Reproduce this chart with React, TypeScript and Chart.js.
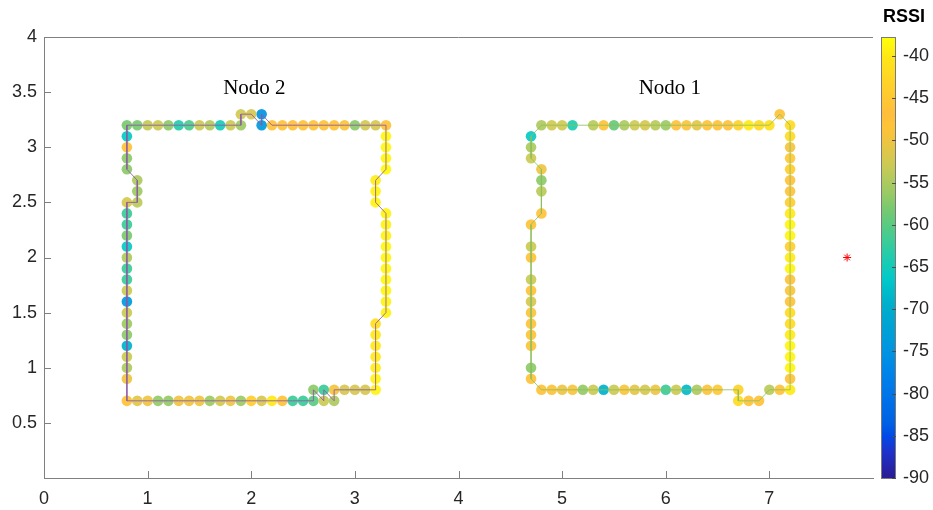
import { useEffect, useRef } from 'react';
import { Chart, registerables } from 'chart.js';

Chart.register(...registerables);

// Colour range of the RSSI colour bar (dBm)
const C_MIN = -90;
const C_MAX = -37.75;

// Axis ticks
const xTickValues = [0, 1, 2, 3, 4, 5, 6, 7];
const yTickValues = [0.5, 1, 1.5, 2, 2.5, 3, 3.5, 4];
const cbTickValues = [-90, -85, -80, -75, -70, -65, -60, -55, -50, -45, -40];

// Route around node 2 (closed loop), positions in metres and RSSI in dBm
const nodo2X = [
  0.8, 0.9, 1.0, 1.1, 1.2, 1.3, 1.4, 1.5, 1.6, 1.7, 1.8, 1.9, 2.0, 2.1, 2.2, 2.3, 2.4, 2.5, 2.6, 2.6, 2.7, 2.7, 2.8, 2.8, 2.9, 3.0, 3.1, 3.2,
  3.2, 3.2, 3.2, 3.2, 3.2, 3.2, 3.3, 3.3, 3.3, 3.3, 3.3, 3.3, 3.3, 3.3, 3.3, 3.3, 3.2, 3.2, 3.2, 3.3, 3.3, 3.3, 3.3, 3.3,
  3.2, 3.1, 3.0, 2.9, 2.8, 2.7, 2.6, 2.5, 2.4, 2.3, 2.2, 2.1, 2.1, 2.0, 1.9, 1.9, 1.8, 1.7, 1.6, 1.5, 1.4, 1.3, 1.2, 1.1, 1.0, 0.9, 0.8,
  0.8, 0.8, 0.8, 0.8, 0.9, 0.9, 0.9, 0.8, 0.8, 0.8, 0.8, 0.8, 0.8, 0.8, 0.8, 0.8, 0.8, 0.8, 0.8, 0.8, 0.8, 0.8, 0.8, 0.8,
];
const nodo2Y = [
  0.7, 0.7, 0.7, 0.7, 0.7, 0.7, 0.7, 0.7, 0.7, 0.7, 0.7, 0.7, 0.7, 0.7, 0.7, 0.7, 0.7, 0.7, 0.7, 0.8, 0.7, 0.8, 0.7, 0.8, 0.8, 0.8, 0.8, 0.8,
  0.9, 1.0, 1.1, 1.2, 1.3, 1.4, 1.5, 1.6, 1.7, 1.8, 1.9, 2.0, 2.1, 2.2, 2.3, 2.4, 2.5, 2.6, 2.7, 2.8, 2.9, 3.0, 3.1, 3.2,
  3.2, 3.2, 3.2, 3.2, 3.2, 3.2, 3.2, 3.2, 3.2, 3.2, 3.2, 3.3, 3.2, 3.3, 3.3, 3.2, 3.2, 3.2, 3.2, 3.2, 3.2, 3.2, 3.2, 3.2, 3.2, 3.2, 3.2,
  3.1, 3.0, 2.9, 2.8, 2.7, 2.6, 2.5, 2.5, 2.4, 2.3, 2.2, 2.1, 2.0, 1.9, 1.8, 1.7, 1.6, 1.5, 1.4, 1.3, 1.2, 1.1, 1.0, 0.9,
];
const nodo2Rssi = [
  -46, -51, -50, -56.5, -56.5, -50, -50, -50, -56, -52.5, -50, -56, -44, -52, -40, -46, -62, -62, -60, -57, -53, -62, -55, -49.5, -52, -52, -52, -39,
  -39, -39.5, -40, -40, -40, -41, -39, -39, -38.5, -38.5, -38.5, -38.5, -38.5, -39, -39, -39, -39, -39, -39.5, -38.5, -38.5, -38.5, -38.5, -46,
  -52, -52.5, -57, -49, -46, -46, -46, -46, -47.5, -46, -46, -75, -74, -52, -52.5, -56, -53, -65, -54.5, -53, -61, -63.5, -57, -53, -53.5, -58, -58,
  -66, -46, -57, -57, -55, -56, -54, -52, -62, -62, -58, -66, -55, -62, -62, -53, -74, -53, -56, -57, -69, -53, -55, -50,
];

// Route around node 1 (closed loop)
const nodo1X = [
  4.8, 4.9, 5.0, 5.1, 5.2, 5.3, 5.4, 5.5, 5.6, 5.7, 5.8, 5.9, 6.0, 6.1, 6.2, 6.3, 6.4, 6.5, 6.7, 6.7, 6.8, 6.9, 7.0, 7.1, 7.2,
  7.2, 7.2, 7.2, 7.2, 7.2, 7.2, 7.2, 7.2, 7.2, 7.2, 7.2, 7.2, 7.2, 7.2, 7.2, 7.2, 7.2, 7.2, 7.2, 7.2, 7.2, 7.2, 7.2, 7.2,
  7.1, 7.0, 6.9, 6.8, 6.7, 6.6, 6.5, 6.4, 6.3, 6.2, 6.1, 6.0, 5.9, 5.8, 5.7, 5.6, 5.5, 5.4, 5.3, 5.1, 5.0, 4.9, 4.8,
  4.7, 4.7, 4.7, 4.8, 4.8, 4.8, 4.8, 4.7, 4.7, 4.7, 4.7, 4.7, 4.7, 4.7, 4.7, 4.7, 4.7, 4.7, 4.7,
];
const nodo1Y = [
  0.8, 0.8, 0.8, 0.8, 0.8, 0.8, 0.8, 0.8, 0.8, 0.8, 0.8, 0.8, 0.8, 0.8, 0.8, 0.8, 0.8, 0.8, 0.8, 0.7, 0.7, 0.7, 0.8, 0.8, 0.8,
  0.9, 1.0, 1.1, 1.2, 1.3, 1.4, 1.5, 1.6, 1.7, 1.8, 1.9, 2.0, 2.1, 2.2, 2.3, 2.4, 2.5, 2.6, 2.7, 2.8, 2.9, 3.0, 3.1, 3.2,
  3.3, 3.2, 3.2, 3.2, 3.2, 3.2, 3.2, 3.2, 3.2, 3.2, 3.2, 3.2, 3.2, 3.2, 3.2, 3.2, 3.2, 3.2, 3.2, 3.2, 3.2, 3.2, 3.2,
  3.1, 3.0, 2.9, 2.8, 2.7, 2.6, 2.4, 2.3, 2.1, 2.0, 1.8, 1.7, 1.6, 1.5, 1.4, 1.3, 1.2, 1.0, 0.9,
];
const nodo1Rssi = [
  -46, -46, -50, -49, -56.5, -53, -69, -53, -49, -51, -52, -50, -62, -53, -68, -55, -46, -45, -43, -42, -46, -46, -54, -46, -40,
  -46, -39, -39, -39, -40, -42, -42, -46, -49, -46, -39, -40, -44, -39, -39, -40, -44, -46, -48, -44, -45, -49.5, -42, -42,
  -46, -41, -42, -40, -43, -48, -46, -46, -51, -49, -48, -56, -54, -52, -52.5, -55, -59, -46, -54, -64, -52.5, -52.5, -55,
  -66, -55, -53, -50, -57, -54, -46, -46, -53, -46, -53, -46, -52, -49, -46, -46, -49, -57, -46,
];

// Node labels and the reference marker
const nodeLabels = ['Nodo 2', 'Nodo 1'];
const nodeLabelX = [2.03, 6.04];
const nodeLabelY = [3.53, 3.53];
const markerX = [7.75];
const markerY = [2.0];

// Parula colour map, sampled every 4th entry of the 64-entry table
const PARULA_IDX = [0, 4, 8, 12, 16, 20, 24, 28, 32, 36, 40, 44, 48, 52, 56, 60, 63];
const PARULA_RGB = [
  [53, 42, 135], [50, 67, 186], [3, 99, 225], [13, 117, 220], [20, 133, 212], [9, 152, 209],
  [6, 167, 198], [21, 177, 180], [56, 185, 158], [101, 190, 134], [146, 191, 115], [183, 189, 100],
  [217, 186, 86], [248, 187, 68], [252, 206, 46], [245, 222, 33], [249, 251, 14],
];

// Boosts the HSL saturation of a colour
function saturate([r, g, b]: number[], k: number): number[] {
  const rn = r / 255, gn = g / 255, bn = b / 255;
  const max = Math.max(rn, gn, bn), min = Math.min(rn, gn, bn);
  const l = (max + min) / 2;
  if (max === min) return [r, g, b];
  const d = max - min;
  let s = l > 0.5 ? d / (2 - max - min) : d / (max + min);
  let h = 0;
  if (max === rn) h = (gn - bn) / d + (gn < bn ? 6 : 0);
  else if (max === gn) h = (bn - rn) / d + 2;
  else h = (rn - gn) / d + 4;
  h /= 6;
  s = Math.min(1, s * k);
  const q = l < 0.5 ? l * (1 + s) : l + s - l * s;
  const p = 2 * l - q;
  const hue = (t: number) => {
    if (t < 0) t += 1;
    if (t > 1) t -= 1;
    if (t < 1 / 6) return p + (q - p) * 6 * t;
    if (t < 1 / 2) return q;
    if (t < 2 / 3) return p + (q - p) * (2 / 3 - t) * 6;
    return p;
  };
  return [hue(h + 1 / 3), hue(h), hue(h - 1 / 3)].map((c) => Math.round(c * 255));
}

function parulaAt(t: number): number[] {
  const p = Math.min(1, Math.max(0, t)) * 63;
  for (let i = 0; i < PARULA_IDX.length - 1; i++) {
    const a = PARULA_IDX[i];
    const b = PARULA_IDX[i + 1];
    if (p <= b) {
      const f = (p - a) / (b - a);
      const c0 = PARULA_RGB[i];
      const c1 = PARULA_RGB[i + 1];
      return saturate([0, 1, 2].map((k) => c0[k] + (c1[k] - c0[k]) * f), 1.3);
    }
  }
  return PARULA_RGB[PARULA_RGB.length - 1];
}

function rssiColor(v: number, alpha = 0.92): string {
  const [r, g, b] = parulaAt((v - C_MIN) / (C_MAX - C_MIN));
  return `rgba(${r},${g},${b},${alpha})`;
}

function toPoints(xs: number[], ys: number[]) {
  return xs.map((x, i) => ({ x, y: ys[i] }));
}

const AXIS_COLOR = '#808080';
const TEXT_COLOR = '#262626';
const SANS = '"Liberation Sans", Arial, Helvetica, sans-serif';

const decorPlugin = {
  id: 'decor',
  afterDatasetsDraw(chart: any) {
    const { ctx, scales } = chart;
    ctx.save();
    ctx.fillStyle = '#000000';
    ctx.font = '21px "Liberation Serif", "Times New Roman", serif';
    ctx.textAlign = 'center';
    ctx.textBaseline = 'middle';
    nodeLabels.forEach((label, i) => {
      ctx.fillText(label, scales.x.getPixelForValue(nodeLabelX[i]), scales.y.getPixelForValue(nodeLabelY[i]));
    });
    ctx.restore();
  },
  afterDraw(chart: any) {
    const { ctx, chartArea, scales } = chart;
    const { left, right, top, bottom } = chartArea;
    ctx.save();
    ctx.strokeStyle = AXIS_COLOR;
    ctx.lineWidth = 1;
    // top edge of the axes box
    ctx.beginPath();
    ctx.moveTo(left, Math.round(top) + 0.5);
    ctx.lineTo(right, Math.round(top) + 0.5);
    ctx.stroke();
    // inward tick marks
    ctx.beginPath();
    xTickValues.forEach((v) => {
      const px = Math.round(scales.x.getPixelForValue(v)) + 0.5;
      ctx.moveTo(px, bottom);
      ctx.lineTo(px, bottom - 7);
    });
    yTickValues.forEach((v) => {
      const py = Math.round(scales.y.getPixelForValue(v)) + 0.5;
      ctx.moveTo(left, py);
      ctx.lineTo(left + 7, py);
    });
    ctx.stroke();

    // colour bar
    const cb = scales.cb;
    const barLeft = right + 8;
    const barW = 15;
    const yMin = cb.getPixelForValue(C_MIN);
    const yMax = cb.getPixelForValue(C_MAX);
    const grad = ctx.createLinearGradient(0, yMin, 0, yMax);
    for (let i = 0; i <= 64; i++) {
      const t = i / 64;
      const [r, g, b] = parulaAt(t);
      grad.addColorStop(t, `rgb(${r},${g},${b})`);
    }
    ctx.fillStyle = grad;
    ctx.fillRect(barLeft, yMax, barW, yMin - yMax);
    ctx.strokeStyle = '#7a7a7a';
    ctx.strokeRect(barLeft + 0.5, Math.round(yMax) + 0.5, barW - 1, Math.round(yMin - yMax));
    ctx.strokeStyle = '#4d4d4d';
    ctx.beginPath();
    cbTickValues.forEach((v) => {
      const py = Math.round(cb.getPixelForValue(v)) + 0.5;
      ctx.moveTo(barLeft + barW - 4, py);
      ctx.lineTo(barLeft + barW, py);
    });
    ctx.stroke();

    ctx.fillStyle = '#000000';
    ctx.font = `bold 18px ${SANS}`;
    ctx.textAlign = 'center';
    ctx.textBaseline = 'middle';
    ctx.fillText('RSSI', barLeft + 23, 17);
    ctx.restore();
  },
};

export default function App() {
  const canvasRef = useRef<HTMLCanvasElement | null>(null);

  useEffect(() => {
    document.body.style.margin = '0';
    const canvas = canvasRef.current;
    if (!canvas) return;

    const nodo2Pts = toPoints(nodo2X, nodo2Y);
    const nodo1Pts = toPoints(nodo1X, nodo1Y);

    const tickFont = { family: SANS, size: 18 };
    const plain = (v: number | string) => String(v);

    const chart = new Chart(canvas, {
      type: 'scatter',
      data: {
        datasets: [
          {
            label: 'ruta nodo 2',
            data: [...nodo2Pts, nodo2Pts[0]],
            showLine: true,
            borderColor: 'rgba(140,88,165,0.85)',
            borderWidth: 1,
            pointRadius: 0,
            tension: 0,
            order: 1,
          },
          {
            label: 'ruta nodo 1',
            data: [...nodo1Pts, nodo1Pts[0]],
            showLine: true,
            borderColor: 'rgba(140,190,90,0.8)',
            borderWidth: 1,
            pointRadius: 0,
            tension: 0,
            order: 1,
          },
          {
            label: 'RSSI nodo 2',
            data: nodo2Pts,
            pointRadius: 5.3,
            pointBorderWidth: 0,
            pointBackgroundColor: nodo2Rssi.map((v) => rssiColor(v)),
            order: 2,
          },
          {
            label: 'RSSI nodo 1',
            data: nodo1Pts,
            pointRadius: 5.3,
            pointBorderWidth: 0,
            pointBackgroundColor: nodo1Rssi.map((v) => rssiColor(v)),
            order: 2,
          },
          {
            label: 'referencia',
            data: toPoints(markerX, markerY),
            pointStyle: 'star',
            pointRadius: 4,
            borderColor: '#ff0000',
            backgroundColor: '#ff0000',
            borderWidth: 1,
            order: 0,
          },
        ],
      },
      options: {
        responsive: false,
        animation: false,
        events: [],
        layout: { padding: { top: 37, left: 0, right: 0, bottom: 0 } },
        plugins: {
          legend: { display: false },
          tooltip: { enabled: false },
        },
        scales: {
          x: {
            type: 'linear',
            min: 0,
            max: 8,
            afterBuildTicks: (s: any) => {
              s.ticks = xTickValues.map((value) => ({ value }));
            },
            afterFit: (s: any) => {
              s.height = 32;
            },
            grid: { display: false, drawTicks: false },
            border: { display: true, color: AXIS_COLOR, width: 1 },
            ticks: { font: tickFont, color: TEXT_COLOR, padding: 10, autoSkip: false, maxRotation: 0, callback: plain },
          },
          y: {
            type: 'linear',
            min: 0,
            max: 4,
            afterBuildTicks: (s: any) => {
              s.ticks = yTickValues.map((value) => ({ value }));
            },
            afterFit: (s: any) => {
              s.width = 44;
            },
            grid: { display: false, drawTicks: false },
            border: { display: true, color: AXIS_COLOR, width: 1 },
            ticks: { font: tickFont, color: TEXT_COLOR, padding: 7, autoSkip: false, callback: plain },
          },
          cb: {
            type: 'linear',
            position: 'right',
            min: C_MIN,
            max: C_MAX,
            afterBuildTicks: (s: any) => {
              s.ticks = cbTickValues.map((value) => ({ value }));
            },
            afterFit: (s: any) => {
              s.width = 60;
            },
            grid: { display: false, drawTicks: true, tickLength: 28 },
            border: { display: false },
            ticks: { font: tickFont, color: TEXT_COLOR, padding: 2, autoSkip: false, callback: plain },
          },
        },
      },
      plugins: [decorPlugin],
    } as any);

    return () => chart.destroy();
  }, []);

  return <canvas ref={canvasRef} width={933} height={510} style={{ display: 'block' }} />;
}
